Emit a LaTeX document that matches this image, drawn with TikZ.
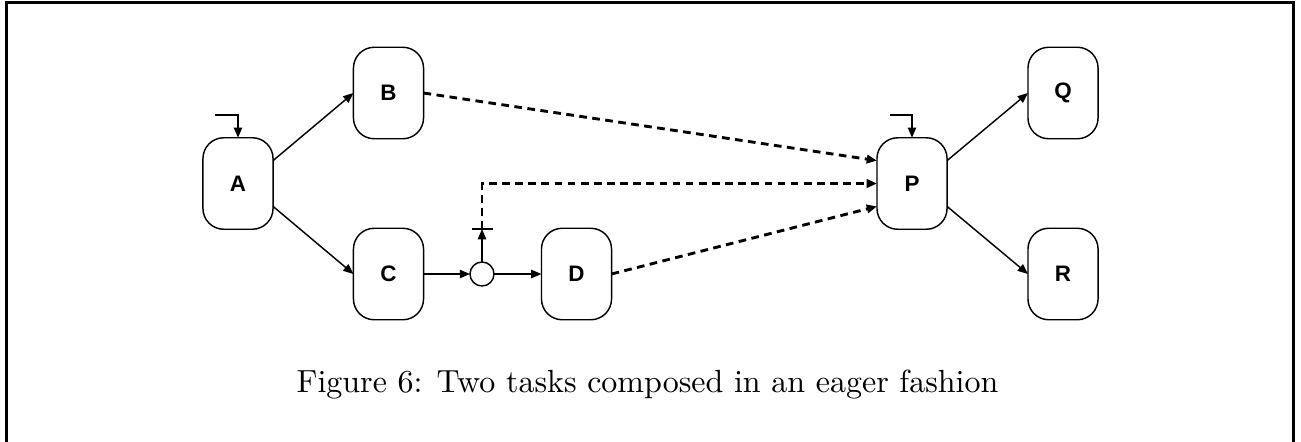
\documentclass[tikz,border=0pt]{standalone}
\usepackage{fontspec}
\newfontfamily\labelfont{Liberation Sans}
\usetikzlibrary{arrows.meta,calc}
\begin{document}
\begin{tikzpicture}[x=0.3125pt,y=-0.3125pt,
  task/.style={draw,line width=0.45pt,rounded corners=6.5pt,minimum width=21.9pt,minimum height=28.6pt,inner sep=0pt,outer sep=0pt,font=\labelfont\fontsize{7}{8}\selectfont\bfseries},
  conn/.style={line width=0.45pt,-{Triangle[length=3.2pt,width=2.6pt]}},
  eager/.style={line width=0.9pt,dash pattern=on 2.4pt off 1.7pt,-{Triangle[length=3.2pt,width=2.6pt]}},
  plain/.style={line width=0.45pt}]
\useasboundingbox (0,0) rectangle (1301,441);
\draw[line width=1pt] (6.5,2.5) rectangle (1293.5,480);
\node[task] (A) at (238,183.5) {A};
\node[task] (B) at (388.5,93) {B};
\node[task] (C) at (388.5,274) {C};
\node[task] (D) at (576.5,274) {D};
\node[task] (P) at (912,183.5) {P};
\node[task] (Q) at (1063,93) {Q};
\node[task] (R) at (1063,274) {R};
\node[draw,circle,line width=0.45pt,minimum size=7.5pt,inner sep=0pt,outer sep=0pt] (K) at (482,274) {};
\coordinate (bar) at (482,229);
\coordinate (barL) at (472,229);
\coordinate (barR) at (493,229);
\coordinate (corner) at (482,183.5);
\coordinate (sA) at (215,115);
\coordinate (sAc) at (238,115);
\coordinate (sP) at (890,115);
\coordinate (sPc) at (912,115);
% start markers
\draw[conn] (sA) -- (sAc) -- (A.north);
\draw[conn] (sP) -- (sPc) -- (P.north);
% solid edges
\draw[conn] ($(A.north east)!0.25!(A.south east)$) -- (B.west);
\draw[conn] ($(A.north east)!0.75!(A.south east)$) -- (C.west);
\draw[conn] (C.east) -- (K.west);
\draw[conn] (K.east) -- (D.west);
\draw[conn] (K.north) -- (bar);
\draw[plain] (barL) -- (barR);
\draw[conn] ($(P.north east)!0.25!(P.south east)$) -- (Q.west);
\draw[conn] ($(P.north east)!0.75!(P.south east)$) -- (R.west);
% eager edges
\draw[eager] (B.east) -- ($(P.north west)!0.25!(P.south west)$);
\draw[eager] (bar) -- (corner) -- (corner -| P.west);
\draw[eager] (D.east) -- ($(P.north west)!0.75!(P.south west)$);
% caption
\node[anchor=base,inner sep=0pt,font=\fontsize{10}{12}\selectfont] (cap) at (647.5,392) {Figure 6: Two tasks composed in an eager fashion};
\end{tikzpicture}
\end{document}
